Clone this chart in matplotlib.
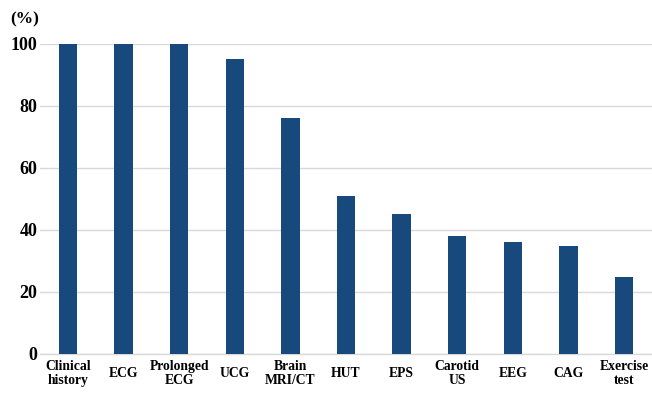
import matplotlib
matplotlib.use("Agg")
import matplotlib.pyplot as plt

categories = ["Clinical\nhistory", "ECG", "Prolonged\nECG", "UCG", "Brain\nMRI/CT",
              "HUT", "EPS", "Carotid\nUS", "EEG", "CAG", "Exercise\ntest"]
values = [100, 100, 100, 95, 76, 51, 45, 38, 36, 35, 25]
yticks = [0, 20, 40, 60, 80, 100]

plt.rcParams["font.family"] = ["Liberation Serif", "DejaVu Serif"]
plt.rcParams["font.weight"] = "bold"

fig = plt.figure(figsize=(6.52, 3.93), dpi=100)
ax = fig.add_axes([40 / 652, 39 / 393, 612 / 652, 310 / 393])

x = range(len(categories))
ax.bar(x, values, width=0.33, color="#17497d", zorder=3)

ax.set_xlim(-0.5, len(categories) - 0.5)
ax.set_ylim(0, 100)
ax.set_yticks(yticks)
ax.set_yticklabels([str(t) for t in yticks], fontsize=13, fontweight="bold")
ax.set_xticks(list(x))
ax.set_xticklabels(categories, fontsize=9.8, fontweight="bold", va="center", linespacing=1.15)

ax.grid(axis="y", color="#d9d9d9", linewidth=1.0, zorder=0)
ax.tick_params(axis="x", length=0, pad=14)
ax.tick_params(axis="y", length=0, pad=2)
for side in ["top", "right", "left"]:
    ax.spines[side].set_visible(False)
ax.spines["bottom"].set_color("#d9d9d9")
ax.spines["bottom"].set_linewidth(1.0)

fig.text(25 / 652, 1 - 19 / 393, "(%)", fontsize=12.5, fontweight="bold",
         ha="center", va="center")

fig.savefig("out.png", dpi=100)
